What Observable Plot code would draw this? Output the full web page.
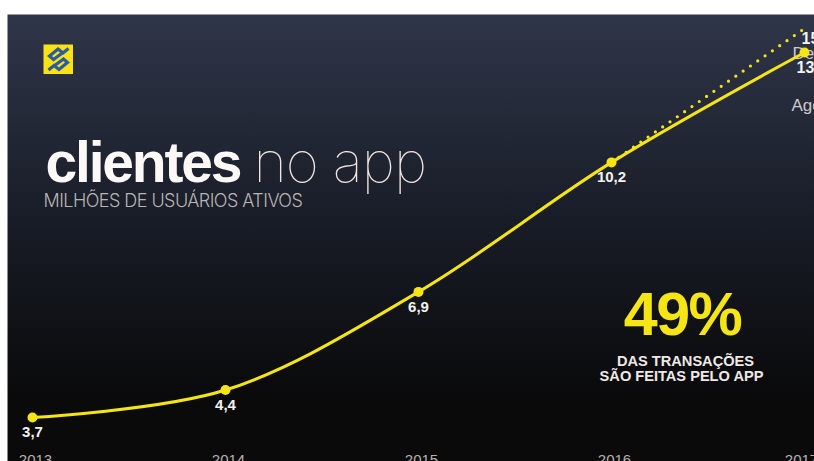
<!DOCTYPE html>
<html lang="pt-BR">
<head>
<meta charset="utf-8">
<script src="https://cdn.jsdelivr.net/npm/d3@7"></script>
<script src="https://cdn.jsdelivr.net/npm/@observablehq/plot@0.6"></script>
<style>
  html, body { margin: 0; padding: 0; background: #fff; overflow: hidden; }
  svg { display: block; }
  .head-bold { letter-spacing: -2.2px; }
  .head-thin { letter-spacing: -1px; }
  .sub { letter-spacing: -0.55px; }
  .big { letter-spacing: -1.5px; }
</style>
</head>
<body>
<script>
// Usuários ativos do app, em milhões
const years = [2013, 2014, 2015, 2016, 2017];
const users = [3.7, 4.4, 6.9, 10.2, 13];
const projectionYears = [2016, 2017];
const projectionUsers = [10.2, 15];
const noteLines = ["DAS TRANSAÇÕES", "SÃO FEITAS PELO APP"];

const yellow = "#f6e515";
const comma = (v) => String(v).replace(".", ",");
const actual = years.map((year, i) => ({year, value: users[i]}));
const projected = projectionYears.map((year, i) => ({year, value: projectionUsers[i]}));
const font = "'Liberation Sans', Arial, sans-serif";

// Fundo em degradê, da parte superior azulada até quase preto
const panelGradient = () => {
  const defs = d3.create("svg:defs");
  const g = defs.append("linearGradient").attr("id", "panel").attr("x1", 0).attr("y1", 0).attr("x2", 0).attr("y2", 1);
  g.append("stop").attr("offset", "0%").attr("stop-color", "#2f3649");
  g.append("stop").attr("offset", "45%").attr("stop-color", "#191d28");
  g.append("stop").attr("offset", "85%").attr("stop-color", "#0a0a0b");
  g.append("stop").attr("offset", "100%").attr("stop-color", "#0a0a0a");
  return defs.node();
};

// Marca do banco: quadrado amarelo com as duas faixas azuis entrelaçadas
const logo = () => {
  const g = d3.create("svg:g").attr("transform", "translate(43.5,44.5)");
  g.append("rect").attr("width", 29.5).attr("height", 29.5).attr("fill", "#fbe214");
  g.append("path")
    .attr("d", "M25 4L19.5 8.5L14.5 4.5L6 11.5L10 15L19.5 8 M5 25.5L10.5 21L15.5 25L24 18L20 14.5L10.5 21.5")
    .attr("fill", "none").attr("stroke", "#2b5ba6").attr("stroke-width", 3.2).attr("stroke-linejoin", "miter");
  return g.node();
};

const chart = Plot.plot({
  width: 814,
  height: 461,
  marginLeft: 7,
  marginTop: 14,
  marginRight: 0,
  marginBottom: 0,
  style: {background: "#fff", fontFamily: font, overflow: "hidden"},
  x: {domain: [2013, 2017], range: [32, 804], axis: null},
  // Como no original, a projeção acima de 13 é desenhada fora de proporção
  y: {type: "linear", domain: [3.7, 13, 15], range: [417, 52, 28], axis: null},
  marks: [
    panelGradient,
    Plot.frame({fill: "url(#panel)", stroke: null}),
    logo,

    // Título e subtítulo
    Plot.text(["clientes"], {frameAnchor: "top-left", dx: 38, dy: 167, fontSize: 57, fontWeight: 700, fill: "#fbf8f6", textAnchor: "start", lineAnchor: "bottom", className: "head-bold", fontFamily: font}),
    Plot.text(["no app"], {frameAnchor: "top-left", dx: 246, dy: 167, fontSize: 57, fontWeight: 100, fill: "#f2e6e0", textAnchor: "start", lineAnchor: "bottom", className: "head-thin", fontFamily: "Inter, sans-serif"}),
    Plot.text(["MILHÕES DE USUÁRIOS ATIVOS"], {frameAnchor: "top-left", dx: 36, dy: 187, fontSize: 18, fontWeight: 300, fill: "#b9b5b3", textAnchor: "start", className: "sub", lineAnchor: "middle", fontFamily: "Inter, sans-serif"}),

    // Destaque das transações
    Plot.text(["49%"], {frameAnchor: "top-left", dx: 675, dy: 301, fontSize: 61, fontWeight: 700, fill: yellow, textAnchor: "middle", lineAnchor: "middle", className: "big"}),
    Plot.text([noteLines[0]], {frameAnchor: "top-left", dx: 678, dy: 347, fontSize: 14.6, fontWeight: 700, fill: "#efe9e6", textAnchor: "middle", lineAnchor: "middle"}),
    Plot.text([noteLines[1]], {frameAnchor: "top-left", dx: 674, dy: 362, fontSize: 14.6, fontWeight: 700, fill: "#efe9e6", textAnchor: "middle", lineAnchor: "middle"}),

    // Valores de cada ano
    Plot.text(actual.slice(0, 4), {x: "year", y: "value", text: (d) => comma(d.value), dy: 15, fontSize: 15, fontWeight: 700, fill: "#f4f1ef"}),
    Plot.text([projected[1]], {x: "year", y: "value", text: (d) => comma(d.value), dx: -3, dy: 10, fontSize: 16, fontWeight: 700, fill: "#f4f1ef", textAnchor: "start"}),
    Plot.text([actual[4]], {x: "year", y: "value", text: (d) => comma(d.value), dx: -8, dy: 15, fontSize: 16, fontWeight: 700, fill: "#f4f1ef", textAnchor: "start"}),
    Plot.text([projected[1]], {x: "year", y: "value", text: () => "Dez", dx: -12, dy: 25, fontSize: 17, fill: "#cfcac8", textAnchor: "start"}),
    Plot.text([actual[4]], {x: "year", y: "value", text: () => "Ago", dx: -13, dy: 53, fontSize: 17, fill: "#cfcac8", textAnchor: "start"}),

    // Série realizada e projeção
    Plot.line(projected, {x: "year", y: "value", stroke: yellow, strokeWidth: 3.2, strokeDasharray: "0 8.9", strokeLinecap: "round"}),
    Plot.line(actual, {x: "year", y: "value", stroke: yellow, strokeWidth: 3, curve: "catmull-rom"}),
    Plot.dot(actual, {x: "year", y: "value", r: 5, fill: yellow}),

    // Anos, com a linha de base colada à borda inferior
    Plot.text(years.slice(0, 4), {x: (d) => d, frameAnchor: "bottom", dx: 3, dy: 3, text: (d) => String(d), fontSize: 15, fill: "#b5b1af", lineAnchor: "bottom"}),
    Plot.text(years.slice(4), {x: (d) => d, frameAnchor: "bottom", dx: -3, dy: 3, text: (d) => String(d), fontSize: 15, fill: "#b5b1af", lineAnchor: "bottom"})
  ]
});
document.body.append(chart);
</script>
</body>
</html>
